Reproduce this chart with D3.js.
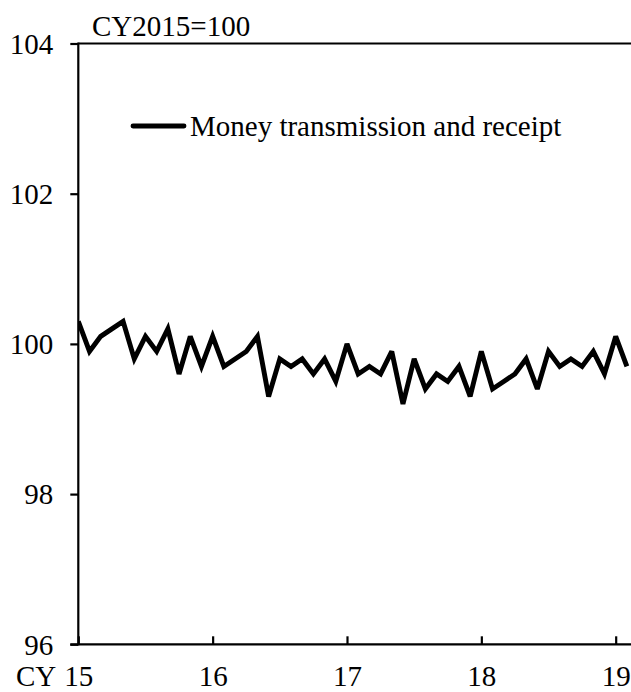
<!DOCTYPE html>
<html>
<head>
<meta charset="utf-8">
<script src="https://cdn.jsdelivr.net/npm/d3@7/dist/d3.min.js"></script>
<style>
  html, body { margin: 0; padding: 0; background: #fff; }
  svg { display: block; }
  text { font-family: "Liberation Serif", "Times New Roman", serif; fill: #000; }
</style>
</head>
<body>
<svg id="chart" width="631" height="692"></svg>
<script>
// ---- data ----
const seriesName = "Money transmission and receipt";
const startYear = 15;            // CY2015, January
const values = [
  100.3, 99.9, 100.1, 100.2, 100.3, 99.8, 100.1, 99.9, 100.2, 99.6, 100.1, 99.7,
  100.1, 99.7, 99.8, 99.9, 100.1, 99.3, 99.8, 99.7, 99.8, 99.6, 99.8, 99.5,
  100.0, 99.6, 99.7, 99.6, 99.9, 99.2, 99.8, 99.4, 99.6, 99.5, 99.7, 99.3,
  99.9, 99.4, 99.5, 99.6, 99.8, 99.4, 99.9, 99.7, 99.8, 99.7, 99.9, 99.6,
  100.1, 99.7
];
const xTicks = [15, 16, 17, 18, 19];
const yTicks = [96, 98, 100, 102, 104];
const unitLabel = "CY2015=100";
const xPrefix = "CY";

// ---- layout ----
const mLeft = 78.3, mRight = 631, mTop = 43.5, mBottom = 644.3;
const svg = d3.select("#chart");

const x = d3.scaleLinear().domain([15, 19.114]).range([mLeft, mRight]);
const y = d3.scaleLinear().domain([96, 104]).range([mBottom, mTop]);

const data = values.map((v, i) => ({ t: startYear + i / 12, v }));

// y axis
const yAxis = svg.append("g").attr("transform", `translate(${mLeft},0)`)
  .call(d3.axisLeft(y).tickValues(yTicks).tickSize(8).tickPadding(17).tickFormat(d3.format("d")));
yAxis.select(".domain").remove();
yAxis.selectAll(".tick line").attr("stroke", "#000").attr("stroke-width", 2.2);
yAxis.selectAll(".tick text").attr("font-size", 29).attr("font-family", "Liberation Serif").attr("dy", "0.34em");
svg.append("line").attr("x1", mLeft).attr("x2", mLeft).attr("y1", mTop - 1).attr("y2", mBottom + 1)
  .attr("stroke", "#000").attr("stroke-width", 2.2);

// top border
svg.append("line").attr("x1", mLeft).attr("x2", mRight).attr("y1", mTop).attr("y2", mTop)
  .attr("stroke", "#000").attr("stroke-width", 2.2);

// x axis (ticks pointing up)
const xAxis = svg.append("g").attr("transform", `translate(0,${mBottom})`)
  .call(d3.axisBottom(x).tickValues(xTicks).tickSize(-8).tickPadding(0).tickFormat(d3.format("d")));
xAxis.select(".domain").remove();
xAxis.selectAll(".tick line").attr("stroke", "#000").attr("stroke-width", 2.2);
xAxis.selectAll(".tick text").attr("font-size", 29).attr("font-family", "Liberation Serif")
  .attr("y", 0).attr("dy", 42);
svg.append("line").attr("x1", mLeft - 8).attr("x2", mRight).attr("y1", mBottom).attr("y2", mBottom)
  .attr("stroke", "#000").attr("stroke-width", 2.2);

svg.append("text").attr("x", 16).attr("y", mBottom + 42).attr("font-size", 29).text(xPrefix);
svg.append("text").attr("x", 92).attr("y", 36).attr("font-size", 29).text(unitLabel);

// series
svg.append("clipPath").attr("id", "clip").append("rect")
  .attr("x", mLeft).attr("y", mTop - 10).attr("width", mRight - mLeft).attr("height", mBottom - mTop + 20);
svg.append("path").datum(data)
  .attr("clip-path", "url(#clip)")
  .attr("fill", "none").attr("stroke", "#000").attr("stroke-width", 4.9)
  .attr("stroke-linejoin", "miter").attr("stroke-miterlimit", 3)
  .attr("d", d3.line().x(d => x(d.t)).y(d => y(d.v)));

// legend
svg.append("line").attr("x1", 133).attr("x2", 184).attr("y1", 126).attr("y2", 126)
  .attr("stroke", "#000").attr("stroke-width", 4.9).attr("stroke-linecap", "round");
svg.append("text").attr("x", 190).attr("y", 136).attr("font-size", 29).text(seriesName);
</script>
</body>
</html>
